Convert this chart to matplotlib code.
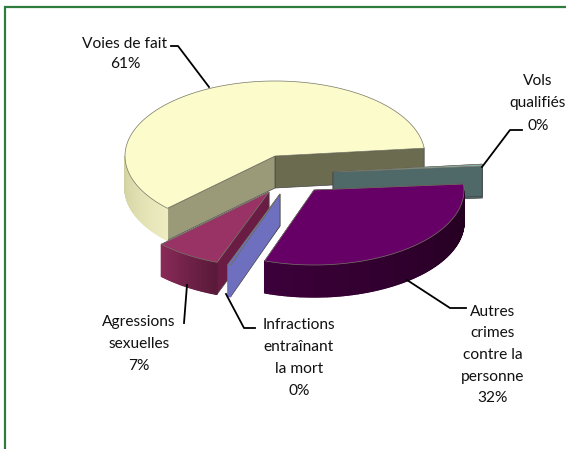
import numpy as np
import matplotlib
import matplotlib.pyplot as plt
from matplotlib.colors import to_rgb
from matplotlib.patches import Polygon

matplotlib.use("Agg")

# shares, counter-clockwise from the right edge of "Voies de fait"
categories = ["Voies de fait", "Agressions\nsexuelles", "Infractions\nentraînant\nla mort",
              "Autres\ncrimes\ncontre la\npersonne", "Vols\nqualifiés"]
values = [60.6, 7.1, 0.3, 31.6, 0.4]

# pie look
start_angle = 6
radius = 150
squash = 0.5
depth = 32
center = np.array([275.0, 156.0])
explode = [(0, 0), (-6, 36), (5, 38), (39, 34), (58, 16)]
top_colors = ["#fbfbcb", "#993366", "#6f6fc0", "#660066", "#8fb5b5"]
start_face = ["#6b6b50", "#5a1a3a", "#6f6fc0", "#33002f", "#4f6868"]
end_face = ["#9a9a78", "#6a1c44", "#6f6fc0", "#33002f", "#4f6868"]
side_left = ["#cfcf9f", "#8a2a58", "#6f6fc0", "#3c003a", "#4f6868"]
side_right = ["#ececc0", "#5a1a3a", "#6f6fc0", "#230020", "#4f6868"]
draw_order = [0, 4, 3, 1, 2]

plt.rcParams["font.family"] = ["Lato", "DejaVu Sans"]

fig = plt.figure(figsize=(5.66, 4.49), dpi=100)
ax = fig.add_axes([0, 0, 1, 1])
ax.set_xlim(0, 566)
ax.set_ylim(449, 0)
ax.axis("off")

# green frame of the page
ax.plot([566, 5, 5], [7, 7, 449], color="#2e7d3e", lw=1.6, solid_joinstyle="miter")


def rim_point(tip, angle):
    a = np.radians(angle)
    return tip + np.array([radius * np.cos(a), -radius * squash * np.sin(a)])


def mix(c1, c2, t):
    return tuple((1 - t) * np.array(to_rgb(c1)) + t * np.array(to_rgb(c2)))


edges = start_angle + np.cumsum([0] + values) * 3.6
down = np.array([0, depth])

for i in draw_order:
    tip = center + np.array(explode[i])
    a0, a1 = edges[i], edges[i + 1]
    arc = np.linspace(a0, a1, max(int(a1 - a0) * 2, 2))
    rim = np.array([rim_point(tip, a) for a in arc])

    # cut faces first, the outer wall (only where it looks at the viewer) goes over them
    p0, p1 = rim_point(tip, a0), rim_point(tip, a1)
    ax.add_patch(Polygon([tip, p0, p0 + down, tip + down], fc=start_face[i], ec="#444444", lw=0.5))
    ax.add_patch(Polygon([tip, p1, p1 + down, tip + down], fc=end_face[i], ec="#444444", lw=0.5))
    shown = arc[np.sin(np.radians(arc)) <= 0]
    for j in range(len(shown) - 1):
        q0, q1 = rim_point(tip, shown[j]), rim_point(tip, shown[j + 1])
        t = j / max(len(shown) - 2, 1)
        col = mix(side_left[i], side_right[i], t)
        ax.add_patch(Polygon([q0, q1, q1 + down, q0 + down], fc=col, ec=col, lw=1.0))
    ax.add_patch(Polygon(np.vstack([tip, rim]), fc=top_colors[i], ec="#777766", lw=0.5))

# leader lines
ax.plot([171, 178, 209], [46, 46, 87], color="black", lw=1.3)
ax.plot([482, 510, 522], [167, 130, 130], color="black", lw=1.3)
ax.plot([407, 450, 466], [280, 308, 308], color="black", lw=1.3)
ax.plot([187, 184], [285, 323], color="black", lw=1.3)
ax.plot([226, 244, 255], [294, 328, 328], color="black", lw=1.3)

# labels, share rounded like the source
label_pos = [(125, 54), (139, 344), (299, 358), (493, 355), (538, 103.5)]
label_spacing = [1.54, 1.75, 1.73, 1.7, 1.8]
for name, val, (x, y), sp in zip(categories, values, label_pos, label_spacing):
    ax.text(x, y, f"{name}\n{val:.0f}%", ha="center", va="center", fontsize=11.2,
            linespacing=sp, color="#111111")

fig.savefig("out.png", dpi=100)
